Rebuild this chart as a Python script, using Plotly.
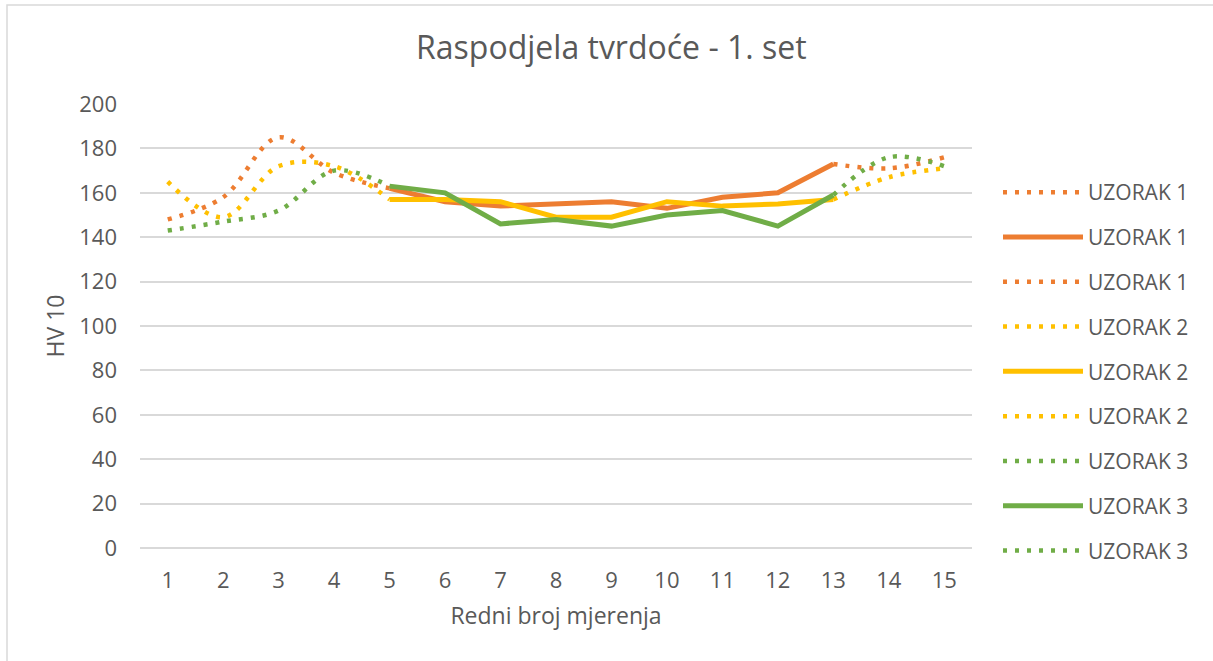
import plotly.graph_objects as go

# Measurement positions (redni broj mjerenja)
positions = list(range(1, 16))

# Hardness HV 10 for the three samples
uzorak_1 = [148, 158, 185, 169, 162, 156, 154, 155, 156, 153, 158, 160, 173, 171, 176]
uzorak_2 = [165, 149, 172, 172, 157, 157, 156, 149, 149, 156, 154, 155, 157, 167, 171]
uzorak_3 = [143, 147, 152, 170, 163, 160, 146, 148, 145, 150, 152, 145, 159, 176, 172]

series_names = ["UZORAK 1", "UZORAK 2", "UZORAK 3"]
series_colors = ["#ED7D31", "#FFC000", "#70AD47"]

# Segments: start zone (1-5) dotted & smoothed, middle (5-13) solid, end zone (13-15) dotted & smoothed
segments = [(0, 5, "dot"), (4, 13, "solid"), (12, 15, "dot")]

TEXT = "#595959"
GRID = "#D9D9D9"
FONT = "Open Sans"

fig = go.Figure()
group = 0
for name, values, color in zip(series_names, [uzorak_1, uzorak_2, uzorak_3], series_colors):
    for start, end, style in segments:
        group += 1
        if style == "dot":
            line = dict(color=color, width=4.5, dash="4px,8px", shape="spline", smoothing=1.0)
        else:
            line = dict(color=color, width=5, shape="linear")
        fig.add_trace(go.Scatter(
            x=positions[start:end],
            y=values[start:end],
            mode="lines",
            name=name,
            line=line,
            legendgroup=f"g{group}",
        ))

W, H = 1213, 661
ml, mr, mt, mb = 140, 241, 104, 113
pw, ph = W - ml - mr, H - mt - mb

fig.update_layout(
    width=W,
    height=H,
    margin=dict(l=ml, r=mr, t=mt, b=mb),
    paper_bgcolor="white",
    plot_bgcolor="white",
    font=dict(family=FONT, color=TEXT, size=21),
    title=dict(
        text="Raspodjela tvrdoće - 1. set",
        x=0.504, xanchor="center",
        y=1 - 48 / H, yanchor="middle",
        font=dict(family=FONT, size=32, color=TEXT),
    ),
    showlegend=True,
    legend=dict(
        x=(998 - ml) / pw, xanchor="left",
        y=(H - mb - 172) / ph, yanchor="top",
        font=dict(family=FONT, size=21, color=TEXT),
        itemwidth=80,
        tracegroupgap=14.5,
        traceorder="grouped",
        bgcolor="rgba(0,0,0,0)",
    ),
    xaxis=dict(
        type="linear",
        range=[0.5, 15.5],
        tickmode="array",
        tickvals=positions,
        ticktext=[str(p) for p in positions],
        showgrid=False,
        zeroline=False,
        showline=False,
        ticks="",
        ticklabelstandoff=17,
        tickfont=dict(size=22, color=TEXT),
        title=dict(text="Redni broj mjerenja", font=dict(size=23, color=TEXT), standoff=14),
    ),
    yaxis=dict(
        range=[0, 200],
        tickmode="array",
        tickvals=list(range(0, 201, 20)),
        showgrid=True,
        gridcolor=GRID,
        gridwidth=1.5,
        zeroline=True,
        zerolinecolor=GRID,
        zerolinewidth=1.5,
        showline=False,
        ticks="",
        ticklabelstandoff=22,
        tickfont=dict(size=22, color=TEXT),
        title=dict(text="HV 10", font=dict(size=23, color=TEXT), standoff=8),
    ),
    shapes=[dict(
        type="rect", xref="paper", yref="paper",
        x0=(7 - ml) / pw, x1=(W + 10 - ml) / pw,
        y0=(H - mb - (H + 10)) / ph, y1=(H - mb - 5) / ph,
        line=dict(color=GRID, width=1.5),
        fillcolor="rgba(0,0,0,0)",
        layer="below",
    )],
)

fig.write_html("out.html")
